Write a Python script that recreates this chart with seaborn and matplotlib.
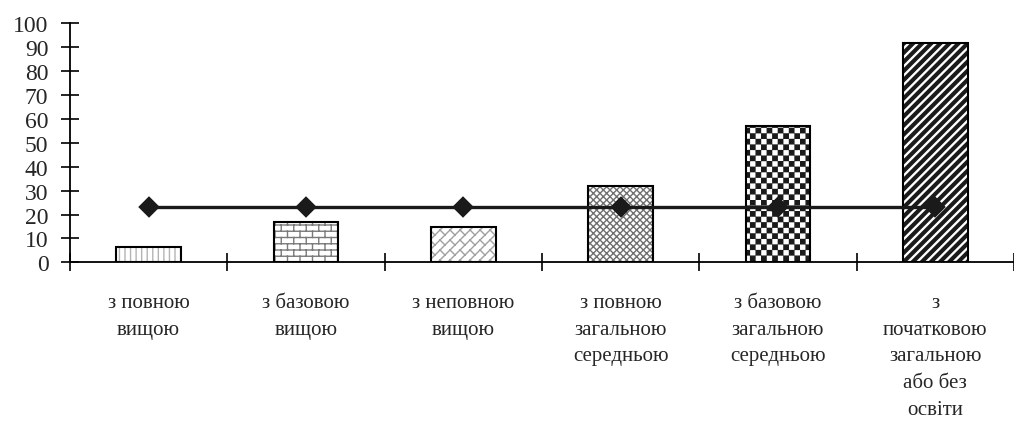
import warnings
import numpy as np
import matplotlib
matplotlib.use('Agg')
import matplotlib.pyplot as plt
import matplotlib.hatch as mhatch
from matplotlib.path import Path
import seaborn as sns

warnings.filterwarnings('ignore')  # custom hatch letters give a deprecation warning

# data
categories = ['з повною\nвищою', 'з базовою\nвищою', 'з неповною\nвищою',
              'з повною\nзагальною\nсередньою', 'з базовою\nзагальною\nсередньою',
              'з\nпочатковою\nзагальною\nабо без\nосвіти']
values = [6.5, 16.7, 14.6, 31.9, 57.0, 91.6]
average = [23, 23, 23, 23, 23, 23]
y_ticks = [0, 10, 20, 30, 40, 50, 60, 70, 80, 90, 100]

# hatch styles for each bar (custom letters b, w, c, s are defined below)
hatches = ['|||', 'b', 'w', 'xxxxx', 'c', 's']
hatch_colors = ['#b4b4b4', '#7a7a7a', '#a0a0a0', '#707070', '#1a1a1a', '#1a1a1a']


def _segments(pairs):
    verts, codes = [], []
    for p0, p1 in pairs:
        verts += [p0, p1]
        codes += [Path.MOVETO, Path.LINETO]
    return np.array(verts, float), np.array(codes, Path.code_type)


def _polygons(polys):
    verts, codes = [], []
    for poly in polys:
        verts += list(poly) + [poly[0]]
        codes += [Path.MOVETO] + [Path.LINETO] * (len(poly) - 1) + [Path.CLOSEPOLY]
    return np.array(verts, float), np.array(codes, Path.code_type)


def brick(n=16):
    segs = []
    for k in range(n + 1):
        segs.append(((0, k / n), (1, k / n)))
    for k in range(n):
        for j in range(n // 2 + 1):
            x = (2 * j + k % 2) / n
            segs.append(((x, k / n), (x, (k + 1) / n)))
    return _segments(segs)


def diag_brick(m=10):
    # bricks along the "/" direction, u = x + y, v = x - y
    def xy(u, v):
        return ((u + v) / 2, (u - v) / 2)
    segs = []
    for k in range(-m - 1, m + 2):
        v = k / m
        segs.append((xy(-2, v), xy(3, v)))
        for j in range(-2, m + 2):
            u = (2 * j + k % 2) / m
            segs.append((xy(u, v), xy(u, v + 1 / m)))
    return _segments(segs)


def checker(n=18, inset=0.006):
    s = 1 / n
    polys = []
    for i in range(n):
        for j in range(n):
            if (i + j) % 2 == 0:
                x0, y0 = i * s + inset, j * s + inset
                x1, y1 = (i + 1) * s - inset, (j + 1) * s - inset
                polys.append([(x0, y0), (x1, y0), (x1, y1), (x0, y1)])
    return _polygons(polys)


def stripes(n=11, w=0.42):
    d = 1 / n
    polys = []
    for k in range(-n - 1, n + 2):
        x = k * d
        polys.append([(x, 0), (x + w * d, 0), (x + w * d + 1, 1), (x + 1, 1)])
    return _polygons(polys)


HATCH_SHAPES = {'b': brick(), 'w': diag_brick(), 'c': checker(), 's': stripes()}


class CustomHatch(mhatch.HatchPatternBase):
    def __init__(self, hatch, density):
        self.parts = [HATCH_SHAPES[ch] for ch in hatch if ch in HATCH_SHAPES]
        self.num_vertices = sum(len(v) for v, c in self.parts)

    def set_vertices_and_codes(self, vertices, codes):
        vertices[:] = np.concatenate([v for v, c in self.parts])
        codes[:] = np.concatenate([c for v, c in self.parts])


mhatch._hatch_types.append(CustomHatch)

sns.set_style('white')
plt.rcParams['font.family'] = ['Liberation Serif', 'DejaVu Serif']
plt.rcParams['hatch.linewidth'] = 1.0

fig = plt.figure(figsize=(10.14, 4.39), dpi=100)
ax = fig.add_axes([0.069, 0.400, 0.931, 0.545])

# hatched fill first, outline on top
sns.barplot(x=categories, y=values, width=0.41, color='white', linewidth=0, ax=ax)
for patch, h, hc in zip(ax.patches, hatches, hatch_colors):
    patch.set_hatch(h)
    patch.set_edgecolor(hc)
    patch.set_facecolor('white')
    patch.set_linewidth(0)
sns.barplot(x=categories, y=values, width=0.41, fill=False, color='black',
            linewidth=1.5, ax=ax)

# average line
sns.pointplot(x=categories, y=average, color='#1a1a1a', markers='D',
              linestyles='-', linewidth=2.4, markersize=9, errorbar=None, ax=ax)

ax.set_xlim(-0.5, len(categories) - 0.5)
ax.set_ylim(0, 100)
ax.set_yticks(y_ticks)
ax.set_yticklabels([str(t) for t in y_ticks], fontsize=17)

# category boundaries as major ticks, labels in the middle as minor ticks
ax.set_xticks(np.arange(-0.5, len(categories), 1.0))
ax.set_xticklabels([])
ax.set_xticks(np.arange(len(categories)), minor=True)
ax.set_xticklabels(categories, minor=True, fontsize=15, linespacing=1.55,
                   va='top', ha='center')
ax.tick_params(axis='x', which='minor', bottom=False, length=0, pad=22)
ax.tick_params(axis='x', which='major', bottom=True, direction='inout', length=13,
               width=1.2, color='black')
ax.tick_params(axis='y', left=True, direction='inout', length=13, width=1.2,
               color='black', pad=9)

for side in ['top', 'right']:
    ax.spines[side].set_visible(False)
for side in ['left', 'bottom']:
    ax.spines[side].set_color('black')
    ax.spines[side].set_linewidth(1.3)
ax.set_xlabel('')
ax.set_ylabel('')

fig.savefig('out.png', dpi=100)
